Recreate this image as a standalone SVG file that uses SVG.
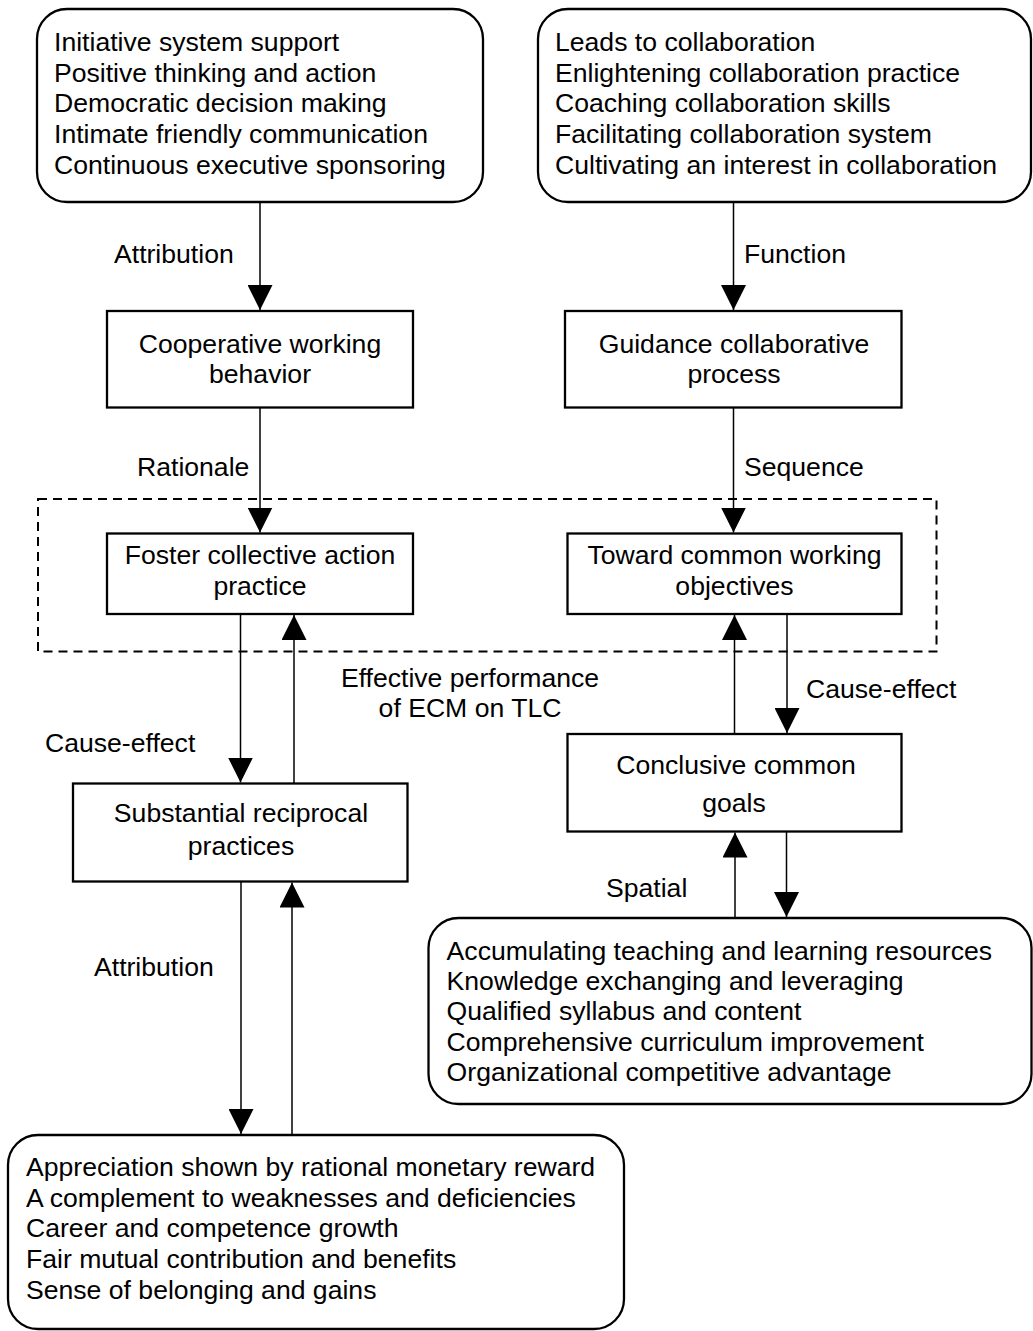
<svg xmlns="http://www.w3.org/2000/svg" width="1033" height="1331" viewBox="0 0 1033 1331">
  <style>
    text { font-family: "Liberation Sans", Arial, sans-serif; font-size: 26.6px; fill: #000; }
    .mid { text-anchor: middle; }
    .box { fill: #fff; stroke: #000; stroke-width: 2.3; }
    .round { fill: #fff; stroke: #000; stroke-width: 2.3; }
    .frame { fill: none; stroke: #000; stroke-width: 2; stroke-dasharray: 9 6; }
    .link { fill: none; stroke: #000; stroke-width: 1.5; marker-end: url(#head); }
  </style>
  <defs>
    <marker id="head" viewBox="0 0 25 25" refX="25" refY="12.5" markerWidth="25" markerHeight="25" markerUnits="userSpaceOnUse" orient="auto">
      <path d="M0,0 L25,12.5 L0,25 Z" fill="#000"/>
    </marker>
  </defs>
  <rect width="1033" height="1331" fill="#fff"/>

  <!-- grouping frame around the two central practices -->
  <rect class="frame" x="38" y="499" width="898.5" height="152.5"/>

  <g id="support-factors">
    <rect class="round" x="37" y="9" width="446" height="193" rx="30" ry="30"/>
    <text x="54" y="51">Initiative system support</text>
    <text x="54" y="81.7">Positive thinking and action</text>
    <text x="54" y="112.3">Democratic decision making</text>
    <text x="54" y="143">Intimate friendly communication</text>
    <text x="54" y="173.5">Continuous executive sponsoring</text>
  </g>

  <g id="collaboration-functions">
    <rect class="round" x="538" y="9" width="493" height="193" rx="30" ry="30"/>
    <text x="555" y="51">Leads to collaboration</text>
    <text x="555" y="81.7">Enlightening collaboration practice</text>
    <text x="555" y="112.3">Coaching collaboration skills</text>
    <text x="555" y="143">Facilitating collaboration system</text>
    <text x="555" y="173.5">Cultivating an interest in collaboration</text>
  </g>

  <g id="cooperative-behavior">
    <rect class="box" x="107" y="311" width="306" height="96.5"/>
    <text class="mid" x="260" y="353.3">Cooperative working</text>
    <text class="mid" x="260" y="383.3">behavior</text>
  </g>

  <g id="guidance-process">
    <rect class="box" x="565" y="311" width="336.5" height="96.5"/>
    <text class="mid" x="734" y="353.3">Guidance collaborative</text>
    <text class="mid" x="734" y="383.3">process</text>
  </g>

  <g id="collective-action">
    <rect class="box" x="107" y="533.5" width="306" height="80.5"/>
    <text class="mid" x="260" y="564">Foster collective action</text>
    <text class="mid" x="260" y="595">practice</text>
  </g>

  <g id="common-objectives">
    <rect class="box" x="567.5" y="533.5" width="334" height="80.5"/>
    <text class="mid" x="734.5" y="564">Toward common working</text>
    <text class="mid" x="734.5" y="595">objectives</text>
  </g>

  <g id="reciprocal-practices">
    <rect class="box" x="73" y="783.5" width="334.5" height="98"/>
    <text class="mid" x="241" y="821.7">Substantial reciprocal</text>
    <text class="mid" x="241" y="855">practices</text>
  </g>

  <g id="common-goals">
    <rect class="box" x="567.5" y="734" width="334" height="97.5"/>
    <text class="mid" x="736" y="774.3">Conclusive common</text>
    <text class="mid" x="734" y="811.5">goals</text>
  </g>

  <g id="learning-outcomes">
    <rect class="round" x="428.5" y="918" width="603" height="186" rx="30" ry="30"/>
    <text x="446.6" y="960">Accumulating teaching and learning resources</text>
    <text x="446.6" y="990">Knowledge exchanging and leveraging</text>
    <text x="446.6" y="1020">Qualified syllabus and content</text>
    <text x="446.6" y="1050.5">Comprehensive curriculum improvement</text>
    <text x="446.6" y="1081">Organizational competitive advantage</text>
  </g>

  <g id="mutual-benefits">
    <rect class="round" x="8" y="1135" width="616" height="194" rx="30" ry="30"/>
    <text x="26" y="1176">Appreciation shown by rational monetary reward</text>
    <text x="26" y="1206.7">A complement to weaknesses and deficiencies</text>
    <text x="26" y="1237.3">Career and competence growth</text>
    <text x="26" y="1268">Fair mutual contribution and benefits</text>
    <text x="26" y="1298.5">Sense of belonging and gains</text>
  </g>

  <g id="connectors">
    <path class="link" d="M260,202 V310"/>
    <path class="link" d="M733.5,202 V310"/>
    <path class="link" d="M260,407.5 V532.5"/>
    <path class="link" d="M733.5,407.5 V532.5"/>
    <path class="link" d="M240.5,614 V782.5"/>
    <path class="link" d="M294,783.5 V615"/>
    <path class="link" d="M787,614 V733"/>
    <path class="link" d="M734.5,734 V615"/>
    <path class="link" d="M241,881.5 V1134"/>
    <path class="link" d="M292,1135 V882.5"/>
    <path class="link" d="M786.5,831.5 V917"/>
    <path class="link" d="M735,918 V832.5"/>
  </g>

  <g id="connector-labels">
    <text x="114" y="263">Attribution</text>
    <text x="744" y="263">Function</text>
    <text x="137" y="476">Rationale</text>
    <text x="744" y="476">Sequence</text>
    <text x="45" y="752">Cause-effect</text>
    <text class="mid" x="470" y="687.3">Effective performance</text>
    <text class="mid" x="470" y="717">of ECM on TLC</text>
    <text x="806" y="698.3">Cause-effect</text>
    <text x="606" y="897">Spatial</text>
    <text x="94" y="976">Attribution</text>
  </g>
</svg>
